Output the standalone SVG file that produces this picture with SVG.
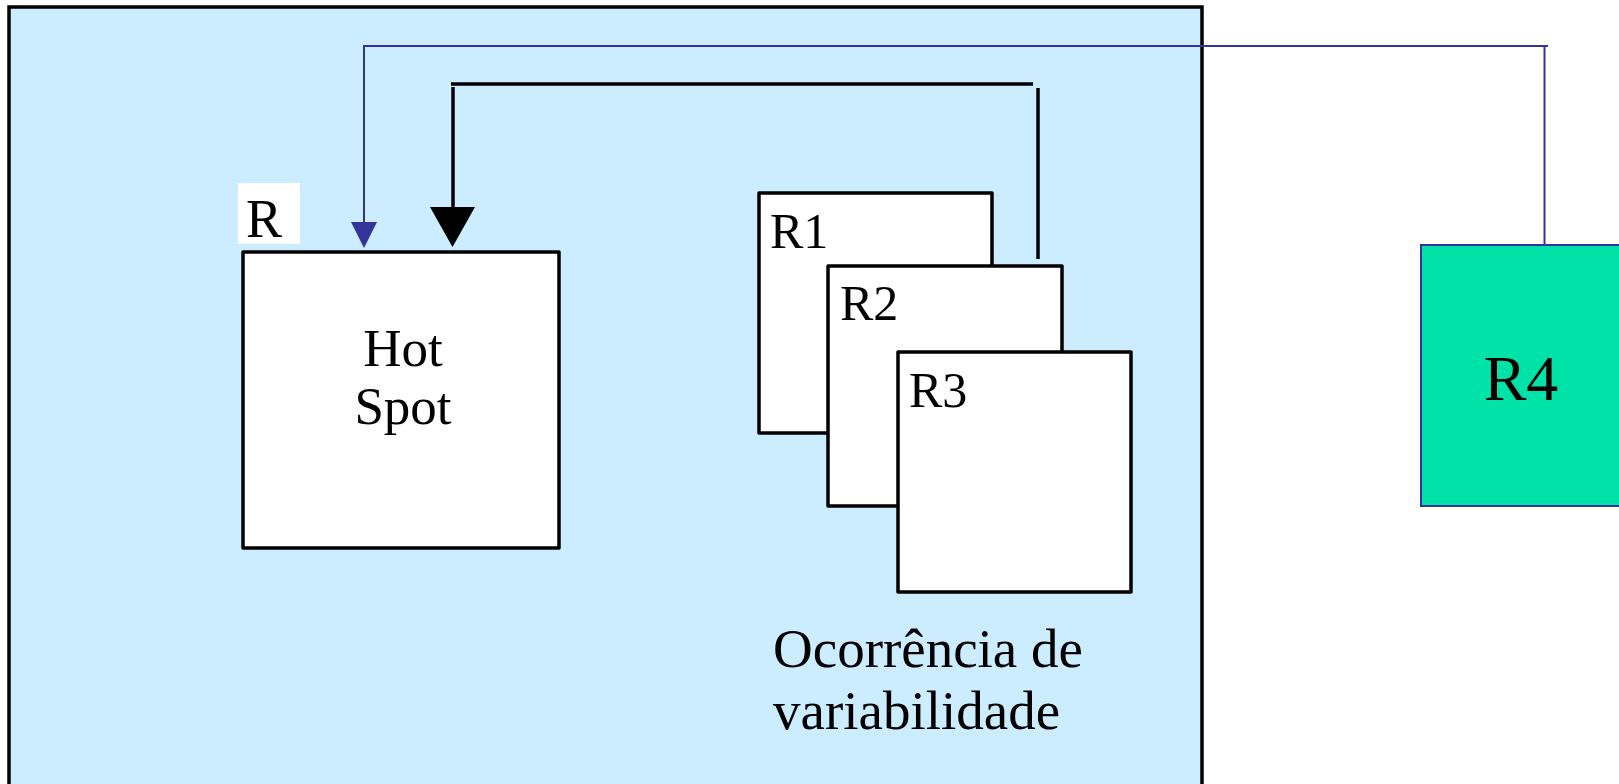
<svg xmlns="http://www.w3.org/2000/svg" width="1619" height="784" viewBox="0 0 1619 784">
<style>
.t{font-family:"Liberation Serif","Times New Roman",serif;fill:#000}
.box{fill:#fff;stroke:#000;stroke-width:3.5;stroke-linejoin:round}
.blk{stroke:#000;stroke-width:3.5;fill:none}
.blu{stroke:#333399;stroke-width:2;fill:none}
</style>
<rect width="1619" height="784" fill="#fff"/>
<g id="container">
<rect x="9" y="7" width="1193" height="800" fill="#CCECFF" stroke="#000" stroke-width="3.5"/>
<text class="t" x="773" y="667" font-size="55">Ocorrência de</text>
<text class="t" x="773" y="729" font-size="55">variabilidade</text>
</g>
<g id="hotspot">
<rect x="243" y="252" width="316" height="296" class="box"/>
<text class="t" x="403" y="366" font-size="53" text-anchor="middle">Hot</text>
<text class="t" x="403" y="424" font-size="53" text-anchor="middle">Spot</text>
</g>
<g id="label-R">
<rect x="238" y="183" width="62" height="61" fill="#fff"/>
<text class="t" x="246" y="237" font-size="54">R</text>
</g>
<g id="R1">
<rect x="759" y="193" width="233" height="240" class="box"/>
<text class="t" x="770" y="248" font-size="50">R1</text>
</g>
<g id="R2">
<rect x="828" y="266" width="234" height="240" class="box"/>
<text class="t" x="840" y="320" font-size="50">R2</text>
</g>
<g id="R3">
<rect x="898" y="352" width="233" height="240" class="box"/>
<text class="t" x="909" y="407" font-size="50">R3</text>
</g>
<g id="R4">
<rect x="1421" y="245" width="220" height="261" fill="#00E3A8" stroke="#333399" stroke-width="2"/>
<text class="t" x="1521" y="400" font-size="64" text-anchor="middle">R4</text>
</g>
<g id="connectors">
<line x1="451" y1="84" x2="1033" y2="84" class="blk"/>
<line x1="453" y1="87" x2="453" y2="210" class="blk"/>
<polygon points="430,207 475,207 452.5,247" fill="#000"/>
<line x1="1038" y1="88" x2="1038" y2="259" class="blk"/>
<polyline points="1544.5,245 1544.5,46" class="blu"/>
<polyline points="1548,46 364,46 364,224" class="blu"/>
<polygon points="351,222 377,222 364,248" fill="#333399"/>
</g>
</svg>
